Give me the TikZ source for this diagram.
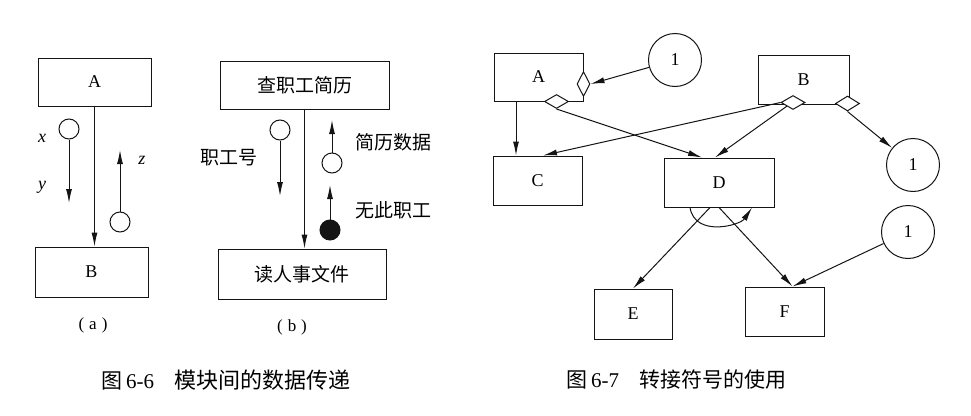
\documentclass[tikz,border=0pt]{standalone}
\usepackage{fontspec}
\setmainfont{Liberation Serif}
\newfontfamily\cjk{Noto Sans CJK SC}
\usepackage{tikz}
\usetikzlibrary{shapes.geometric, arrows.meta, positioning, calc}
\definecolor{myink}{RGB}{20,20,20}
\tikzset{
  block/.style={rectangle, draw=myink, fill=white, inner sep=0pt,
    font=\fontsize{18}{21}\selectfont, line width=1pt},
  cjkblock/.style={block, font=\cjk\fontsize{19}{22}\selectfont},
  couple/.style={circle, draw=myink, fill=white, minimum size=20pt,
    inner sep=0pt, line width=1pt},
  flagcouple/.style={couple, fill=myink},
  offpage/.style={circle, draw=myink, fill=white, minimum size=53pt,
    inner sep=0pt, font=\fontsize{18}{21}\selectfont, line width=1pt},
  joint/.style={diamond, draw=myink, fill=white, inner sep=0pt,
    line width=1pt},
  varlabel/.style={font=\fontsize{18}{21}\selectfont\itshape},
  cjklabel/.style={font=\cjk\fontsize{19}{22}\selectfont},
  sublabel/.style={font=\fontsize{17}{20}\selectfont},
  caption/.style={anchor=west, font=\fontsize{21}{24}\selectfont},
  arrow/.style={-{Latex[length=14pt,width=6pt]}, line width=1pt, color=myink},
  line/.style={line width=1pt, color=myink}
}

\begin{document}
\begin{tikzpicture}[x=1pt, y=-1pt]
  \useasboundingbox (0,0) rectangle (971,415);
  % (a)
  \node[block, minimum width=113pt, minimum height=48pt] (aA) at (94.5,82) {A};
  \node[block, minimum width=113pt, minimum height=50pt] (aB) at (91.5,272) {B};
  \draw[arrow] (aA.south) -- (aA.south |- aB.north);
  \node[couple] (ax) at (69,129) {};
  \coordinate (axend) at (69,203);
  \draw[arrow] (ax) -- (axend);
  \node[couple] (az) at (120,222) {};
  \coordinate (azend) at (120,150);
  \draw[arrow] (az) -- (azend);
  \node[varlabel] (lx) at (42,138) {x};
  \node[varlabel] (ly) at (42,187) {y};
  \node[varlabel] (lz) at (142,160) {z};
  \node[sublabel] (capa) at (93,325) {(\hspace{5pt}a\hspace{5pt})};
  % (b)
  \node[cjkblock, minimum width=169pt, minimum height=48pt] (bA) at (304.5,85) {查职工简历};
  \node[cjkblock, minimum width=168pt, minimum height=50pt] (bB) at (302,274) {读人事文件};
  \draw[arrow] (bA.south) -- (bA.south |- bB.north);
  \node[couple] (bno) at (280,130) {};
  \coordinate (bnoend) at (280,196);
  \draw[arrow] (bno) -- (bnoend);
  \node[couple] (bdata) at (332,163) {};
  \coordinate (bdataend) at (332,120);
  \draw[arrow] (bdata) -- (bdataend);
  \node[flagcouple] (bflag) at (330,230) {};
  \coordinate (bflagend) at (330,185);
  \draw[arrow] (bflag) -- (bflagend);
  \node[cjklabel] (lno) at (229,158) {职工号};
  \node[cjklabel] (ldata) at (393,142) {简历数据};
  \node[cjklabel] (lflag) at (393,210) {无此职工};
  \node[sublabel] (capb) at (292,327) {(\hspace{5pt}b\hspace{5pt})};
  \node[caption] (cap66) at (98,380) {{\cjk\fontsize{21}{24}\selectfont 图}\,6-6\hspace{20pt}{\cjk\fontsize{22}{24}\selectfont 模块间的数据传递}};
  % 6-7
  \node[block, minimum width=89pt, minimum height=48pt] (A) at (538.5,77) {A};
  \node[block, minimum width=91pt, minimum height=49pt] (B) at (803.5,79.5) {B};
  \node[block, minimum width=89pt, minimum height=49pt] (C) at (537.5,180.5) {C};
  \node[block, minimum width=110pt, minimum height=49pt] (D) at (719,182.5) {D};
  \node[block, minimum width=78pt, minimum height=50pt] (E) at (633,314) {E};
  \node[block, minimum width=79pt, minimum height=49pt] (F) at (784.5,311.5) {F};
  \node[joint, minimum width=13pt, minimum height=25pt] (dA1) at ([yshift=-7pt]A.east) {};
  \node[joint, minimum width=24pt, minimum height=14pt] (dA2) at ([xshift=18pt]A.south) {};
  \node[joint, minimum width=24pt, minimum height=14pt] (dB1) at ([xshift=-10.5pt,yshift=2pt]B.south) {};
  \node[joint, minimum width=24pt, minimum height=15pt] (dB2) at ([xshift=-2pt,yshift=1pt]B.south east) {};
  \node[offpage] (c1) at (675,60) {1};
  \node[offpage] (c2) at (913,165) {1};
  \node[offpage] (c3) at (908,232) {1};
  \draw[arrow] (c1) -- (dA1.east);
  \draw[arrow] ([xshift=-22.5pt]A.south) -- ([xshift=-22.5pt]A.south |- C.north);
  \draw[arrow] (dA2.south) -- ([xshift=-17pt]D.north);
  \draw[arrow] (dB1.west) -- ([xshift=5.5pt]C.north);
  \draw[arrow] (dB1.south west) -- ([xshift=-4pt]D.north);
  \draw[arrow] (dB2.south) -- (c2);
  \draw[arrow] ([xshift=-9pt]D.south) -- (E.north);
  \draw[arrow] (D.south) -- ([xshift=8pt]F.north);
  \draw[arrow] (c3) -- ([xshift=8pt]F.north);
  \draw[arrow] ([xshift=-29pt]D.south) .. controls +(5,30) and +(-12,18) .. ([xshift=33pt]D.south);
  \node[caption] (cap67) at (563,380) {{\cjk\fontsize{21}{24}\selectfont 图}\,6-7\hspace{20pt}{\cjk\fontsize{21}{24}\selectfont 转接符号的使用}};
\end{tikzpicture}
\end{document}
